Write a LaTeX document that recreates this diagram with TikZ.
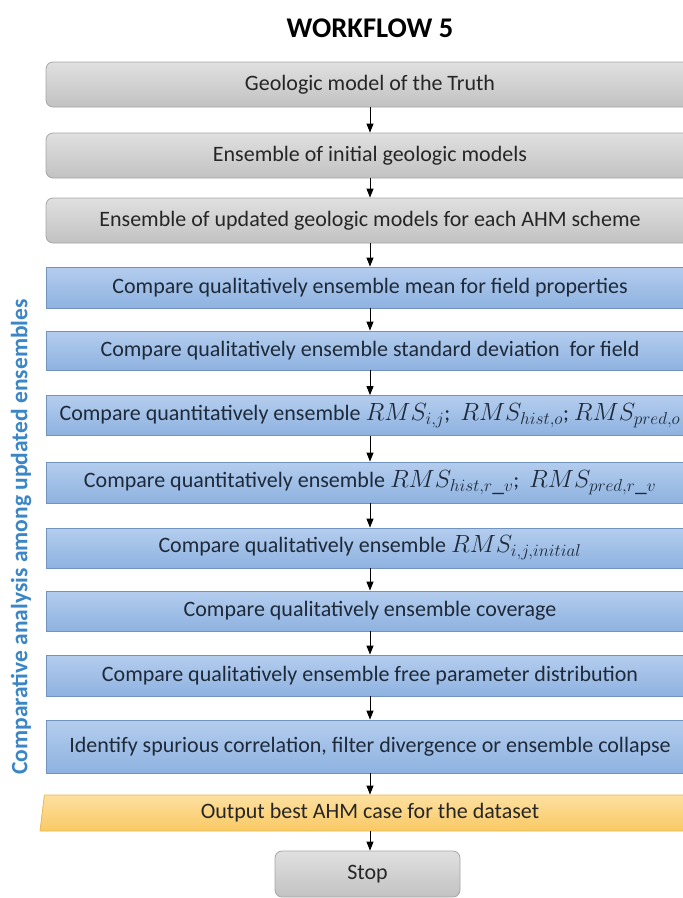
\documentclass[tikz,border=0pt]{standalone}
\usepackage{fontspec}
\setmainfont{Carlito}
\usetikzlibrary{arrows.meta,shapes.geometric}
\definecolor{txt}{HTML}{262626}
\definecolor{bluetxt}{HTML}{1E2A3A}
\definecolor{grayA}{HTML}{E0E0E0}
\definecolor{grayB}{HTML}{C2C2C2}
\definecolor{grayLine}{HTML}{A6A6A6}
\definecolor{blueA}{HTML}{B4CDEE}
\definecolor{blueB}{HTML}{8EB2E0}
\definecolor{blueLine}{HTML}{7193C0}
\definecolor{yelA}{HTML}{FDE0A0}
\definecolor{yelB}{HTML}{F9C964}
\definecolor{yelLine}{HTML}{E9B94F}
\definecolor{sideblue}{HTML}{3B86C6}
% error measures are set a little larger than the running text
\newcommand{\rmsterm}[1]{{\fontsize{23.5}{26}\selectfont$RMS_{#1}$}}
\tikzset{
  x=1pt, y=-1pt,
  box/.style={minimum width=648pt, inner sep=0pt, font=\fontsize{22}{26}\selectfont},
  graybox/.style={box, rounded corners=7pt, draw=grayLine, line width=0.8pt,
    top color=grayA, bottom color=grayB, text=txt},
  bluebox/.style={box, draw=blueLine, line width=0.8pt,
    top color=blueA, bottom color=blueB, text=bluetxt},
  outbox/.style={box, trapezium, trapezium left angle=77, trapezium right angle=103,
    draw=yelLine, line width=0.8pt, top color=yelA, bottom color=yelB, text=txt,
    trapezium stretches body, minimum width=660pt},
  stopbox/.style={graybox, minimum width=185pt, minimum height=46pt},
  flow/.style={-{Triangle[width=7pt,length=9pt]}, line width=0.9pt, black}
}
\begin{document}
\begin{tikzpicture}
\useasboundingbox (0,0) rectangle (683,898);
\clip (0,0) rectangle (683,898);

% title
\node[font=\fontsize{28.5}{32}\selectfont\bfseries, text=black] (title) at (370,28) {WORKFLOW 5};

% model boxes
\node[graybox, minimum height=45pt] (g1) at (370,84.5) {Geologic model of the Truth};
\node[graybox, minimum height=45pt] (g2) at (370,155.5) {Ensemble of initial geologic models};
\node[graybox, minimum height=45pt] (g3) at (370,220.5) {Ensemble of updated geologic models for each AHM scheme};

% comparison steps
\node[bluebox, minimum height=41pt] (b1) at (370,287.5) {Compare qualitatively ensemble mean for field properties};
\node[bluebox, minimum height=39pt] (b2) at (370,350.5) {Compare qualitatively ensemble standard deviation\ \ for field};
\node[bluebox, minimum height=40pt] (b3) at (370,415.5) {Compare quantitatively ensemble \rmsterm{i,j};\ \ \rmsterm{hist,o}; \rmsterm{pred,o}};
\node[bluebox, minimum height=41pt] (b4) at (370,482.5) {Compare quantitatively ensemble \rmsterm{hist,r\_v};\ \ \rmsterm{pred,r\_v}};
\node[bluebox, minimum height=40pt] (b5) at (370,548) {Compare qualitatively ensemble \rmsterm{i,j,initial}};
\node[bluebox, minimum height=40pt] (b6) at (370,611) {Compare qualitatively ensemble coverage};
\node[bluebox, minimum height=41pt] (b7) at (370,675.5) {Compare qualitatively ensemble free parameter distribution};
\node[bluebox, minimum height=53pt] (b8) at (370,746.5) {Identify spurious correlation, filter divergence or ensemble collapse};

% output and end
\node[outbox, minimum height=36pt] (out) at (370,813) {Output best AHM case for the dataset};
\node[stopbox] (stop) at (367.5,874) {Stop};

% side label
\node[rotate=90, font=\fontsize{23.5}{26}\selectfont\bfseries, text=sideblue] (side) at (21,537) {Comparative analysis among updated ensembles};

% connectors
\foreach \a/\b in {g1/g2, g2/g3, g3/b1, b1/b2, b2/b3, b3/b4, b4/b5, b5/b6, b6/b7, b7/b8, b8/out}
  \draw[flow] (\a.south -| title.south) -- (\b.north -| title.south);
\draw[flow] (out.south -| title.south) -- (stop.north -| title.south);
\end{tikzpicture}
\end{document}
